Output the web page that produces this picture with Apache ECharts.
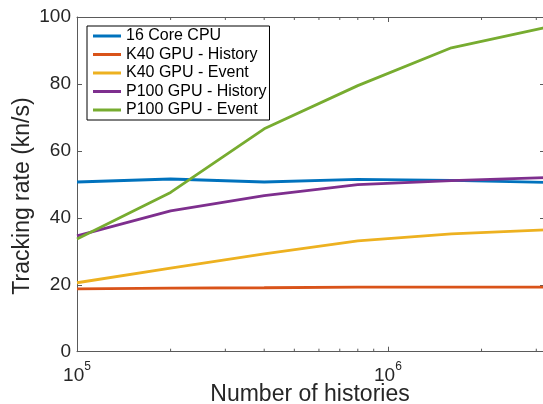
<!DOCTYPE html>
<html>
<head>
<meta charset="utf-8">
<script src="https://cdn.jsdelivr.net/npm/echarts@6/dist/echarts.min.js"></script>
<style>
html,body{margin:0;padding:0;background:#fff;overflow:hidden;}
#c{width:548px;height:404px;}
</style>
</head>
<body>
<div id="c"></div>
<script>
const histories = [1e5, 2e5, 4e5, 8e5, 1.6e6, 3.2e6];
const cpu16 = [50.7, 51.6, 50.7, 51.5, 51.2, 50.6];
const k40History = [18.8, 19.0, 19.1, 19.3, 19.3, 19.3];
const k40Event = [20.6, 25.0, 29.2, 33.1, 35.2, 36.4];
const p100History = [34.6, 42.1, 46.6, 49.9, 51.1, 52.0];
const p100Event = [33.7, 47.6, 66.6, 79.5, 90.8, 96.8];
const seriesNames = ['16 Core CPU', 'K40 GPU - History', 'K40 GPU - Event', 'P100 GPU - History', 'P100 GPU - Event'];
const seriesColors = ['#0072BD', '#D95319', '#EDB120', '#7E2F8E', '#77AC30'];
const minorTicks = [2e5, 3e5, 4e5, 5e5, 6e5, 7e5, 8e5, 9e5, 2e6, 3e6];
const yTicks = [0, 20, 40, 60, 80, 100];
const xTitle = 'Number of histories';
const yTitle = 'Tracking rate (kn/s)';

const allData = [cpu16, k40History, k40Event, p100History, p100Event];
const font = '"Liberation Sans", Arial, Helvetica, sans-serif';
const axisCol = '#5a5a5a';
const txtCol = '#262626';

const chart = echarts.init(document.getElementById('c'), null, {renderer: 'canvas'});

const lineSeries = seriesNames.map((n, i) => ({
  name: n,
  type: 'line',
  xAxisIndex: 0,
  yAxisIndex: 0,
  symbol: 'none',
  lineStyle: {width: 2.8, color: seriesColors[i]},
  itemStyle: {color: seriesColors[i]},
  data: histories.map((h, j) => [h, allData[i][j]]),
  z: 3
}));

function xLabel(v) {
  const e = Math.round(Math.log10(v));
  if (Math.abs(Math.pow(10, e) - v) > 1e-6 * v) return '';
  return '{b|10}{s|' + e + '}';
}

const option = {
  animation: false,
  backgroundColor: '#fff',
  textStyle: {fontFamily: font},
  grid: {left: 77, top: 17, right: 3, bottom: 52.3, containLabel: false, outerBoundsMode: 'none'},
  legend: {
    data: seriesNames,
    left: 87,
    top: 26,
    orient: 'vertical',
    icon: 'rect',
    itemWidth: 28,
    itemHeight: 3,
    itemGap: 0.5,
    padding: [1, 3, 1, 6],
    borderColor: '#000',
    borderWidth: 1,
    backgroundColor: '#fff',
    textStyle: {fontFamily: font, fontSize: 16, color: '#000', lineHeight: 18},
    selectedMode: false
  },
  xAxis: [{
    type: 'log',
    logBase: 10,
    min: histories[0],
    max: histories[histories.length - 1],
    position: 'bottom',
    axisLine: {show: true, onZero: false, lineStyle: {color: axisCol, width: 1}},
    axisTick: {show: true, inside: true, length: 5, lineStyle: {color: axisCol}},
    axisLabel: {
      show: true, margin: 9, formatter: xLabel, showMaxLabel: false,
      rich: {
        b: {fontFamily: font, fontSize: 19, color: txtCol, lineHeight: 20, padding: [11, 0, 0, 0]},
        s: {fontFamily: font, fontSize: 12, color: txtCol, lineHeight: 14, padding: [0, 0, 8, 0]}
      }
    },
    splitLine: {show: false}
  }, {
    type: 'log',
    logBase: 10,
    min: histories[0],
    max: histories[histories.length - 1],
    position: 'top',
    axisLine: {show: true, onZero: false, lineStyle: {color: axisCol, width: 1}},
    axisTick: {show: true, inside: true, length: 5, lineStyle: {color: axisCol}},
    axisLabel: {show: false},
    splitLine: {show: false}
  }],
  yAxis: [{
    type: 'value',
    min: yTicks[0],
    max: yTicks[yTicks.length - 1],
    interval: 20,
    position: 'left',
    axisLine: {show: true, onZero: false, lineStyle: {color: axisCol, width: 1}},
    axisTick: {show: true, inside: true, length: 5, lineStyle: {color: axisCol}},
    axisLabel: {show: true, margin: 6, fontFamily: font, fontSize: 19, color: txtCol},
    splitLine: {show: false}
  }, {
    type: 'value',
    min: yTicks[0],
    max: yTicks[yTicks.length - 1],
    interval: 20,
    position: 'right',
    axisLine: {show: true, onZero: false, lineStyle: {color: axisCol, width: 1}},
    axisTick: {show: true, inside: true, length: 5, lineStyle: {color: axisCol}},
    axisLabel: {show: false},
    splitLine: {show: false}
  }],
  graphic: [{
    type: 'text',
    x: 23,
    y: 196,
    rotation: Math.PI / 2,
    style: {
      text: yTitle,
      fontFamily: font,
      fontSize: 23,
      fill: txtCol,
      align: 'center',
      verticalAlign: 'middle'
    }
  }, {
    type: 'text',
    x: 310,
    y: 395,
    style: {
      text: xTitle,
      fontFamily: font,
      fontSize: 23,
      fill: txtCol,
      align: 'center',
      verticalAlign: 'middle'
    }
  }],
  series: lineSeries.concat([{
    type: 'custom',
    name: 'minorTicks',
    xAxisIndex: 0,
    yAxisIndex: 0,
    silent: true,
    clip: false,
    z: 2,
    data: minorTicks.map(v => [v, 0]),
    renderItem: function (params, api) {
      const v = api.value(0);
      const pb = api.coord([v, yTicks[0]]);
      const pt = api.coord([v, yTicks[yTicks.length - 1]]);
      const st = {stroke: axisCol, lineWidth: 1};
      return {
        type: 'group',
        children: [
          {type: 'line', shape: {x1: pb[0], y1: pb[1], x2: pb[0], y2: pb[1] - 3}, style: st},
          {type: 'line', shape: {x1: pt[0], y1: pt[1], x2: pt[0], y2: pt[1] + 3}, style: st}
        ]
      };
    }
  }])
};
chart.setOption(option);
</script>
</body>
</html>
